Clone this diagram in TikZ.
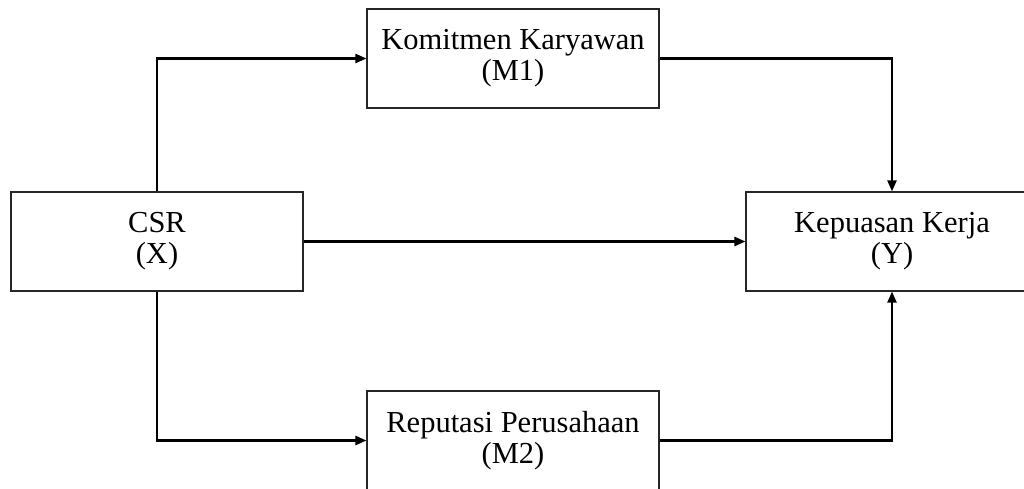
\documentclass[tikz,border=0pt]{standalone}
\usepackage{fontspec}
\setmainfont{Liberation Serif}
\usetikzlibrary{arrows.meta}
\begin{document}
\begin{tikzpicture}[x=1pt,y=-1pt,
  box/.style={draw=black!85,line width=1.1pt,minimum width=292pt,minimum height=99pt,
    inner sep=0pt,align=center,font=\fontsize{30.5}{31}\selectfont},
  conn/.style={line width=2.2pt,-{Triangle[length=11pt,width=9pt]}}]
\useasboundingbox (0,0) rectangle (1024,489);
\fill[white] (0,0) rectangle (1024,489);
\node[box] (x) at (157,241.5) {CSR\\(X)};
\node[box] (m1) at (513,58.5) {Komitmen Karyawan\\(M1)};
\node[box] (y) at (892,241.5) {Kepuasan Kerja\\(Y)};
\node[box] (m2) at (513,440.5) {Reputasi Perusahaan\\(M2)};
\draw[conn] (x.north) |- (m1.west);
\draw[conn] (m1.east) -| (y.north);
\draw[conn] (x.east) -- (y.west);
\draw[conn] (x.south) |- (m2.west);
\draw[conn] (m2.east) -| (y.south);
\end{tikzpicture}
\end{document}
